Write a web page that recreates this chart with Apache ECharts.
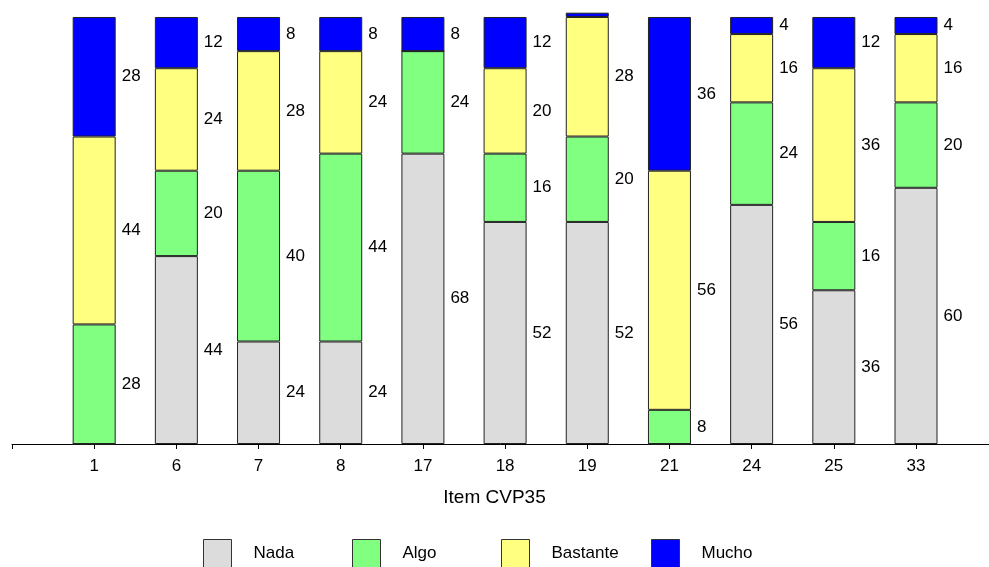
<!DOCTYPE html>
<html><head><meta charset="utf-8">
<script src="https://cdn.jsdelivr.net/npm/echarts@6/dist/echarts.min.js"></script>
<style>html,body{margin:0;padding:0;background:#fff}#c{width:989px;height:567px}</style>
</head><body><div id="c"></div>
<script>
const categories = ['1','6','7','8','17','18','19','21','24','25','33'];
const nada     = [0, 44, 24, 24, 68, 52, 52, 0, 56, 36, 60];
const algo     = [28, 20, 40, 44, 24, 16, 20, 8, 24, 16, 20];
const bastante = [44, 24, 28, 24, 0, 20, 28, 56, 16, 36, 16];
const mucho    = [28, 12, 8, 8, 8, 12, 1, 36, 4, 12, 4];
const seriesNames = ['Nada','Algo','Bastante','Mucho'];
const colors = ['#DCDCDC','#80FF80','#FFFF80','#0000FF'];
const FONT = 'Liberation Sans, Arial, sans-serif';

// axis slots: an empty slot before the categories
const axisSlots = [''].concat(categories);

const chart = echarts.init(document.getElementById('c'));
const all = [nada, algo, bastante, mucho];
const series = all.map((arr, k) => ({
  name: seriesNames[k],
  type: 'bar',
  stack: 'total',
  barWidth: 43,
  xAxisIndex: 0, yAxisIndex: 0,
  data: arr.map((v, i) => [categories[i], v]),
  itemStyle: {color: colors[k], borderColor: '#222', borderWidth: 1},
  label: {
    show: true, position: 'right', distance: 6,
    color: '#000', fontSize: 17, fontFamily: FONT,
    formatter: p => (p.value[1] >= 4 ? String(p.value[1]) : '')
  },
  emphasis: {disabled: true}
}));

const legendLefts = [203, 352, 501, 651];
const legends = seriesNames.map((n, k) => ({
  data: [n], left: legendLefts[k], top: 539, orient: 'horizontal', padding: 0,
  itemWidth: 28, itemHeight: 28, icon: 'rect',
  itemStyle: {borderColor: '#333', borderWidth: 1},
  textStyle: {fontSize: 17, fontFamily: FONT, color: '#000', padding: [0,0,0,17]},
  selectedMode: false
}));

chart.setOption({
  animation: false,
  backgroundColor: '#fff',
  title: {text: 'Item CVP35', left: 'center', top: 488, padding: 0,
    textStyle: {fontSize: 19, fontWeight: 'normal', fontFamily: FONT, color: '#000'}},
  grid: [
    {left: 12, right: 73, top: 12.7, bottom: 123, containLabel: false},
    {left: 12, right: 0, top: 12.7, bottom: 123, containLabel: false}
  ],
  legend: legends,
  xAxis: [{
    type: 'category', data: axisSlots, boundaryGap: false, gridIndex: 0,
    splitLine: {show: false},
    axisLine: {show: false},
    axisTick: {show: true, length: 5, interval: 0, lineStyle: {color: '#000'}},
    axisLabel: {margin: 14, interval: 0, fontSize: 17, fontFamily: FONT, color: '#000'}
  }, {
    type: 'value', gridIndex: 1, min: 0, max: 1,
    splitLine: {show: false},
    axisLine: {show: true, lineStyle: {color: '#000', width: 1}},
    axisTick: {show: false}, axisLabel: {show: false}
  }],
  yAxis: [
    {type: 'value', min: 0, max: 101, show: false, gridIndex: 0},
    {type: 'value', min: 0, max: 1, show: false, gridIndex: 1}
  ],
  series: series
});
</script>
</body></html>
